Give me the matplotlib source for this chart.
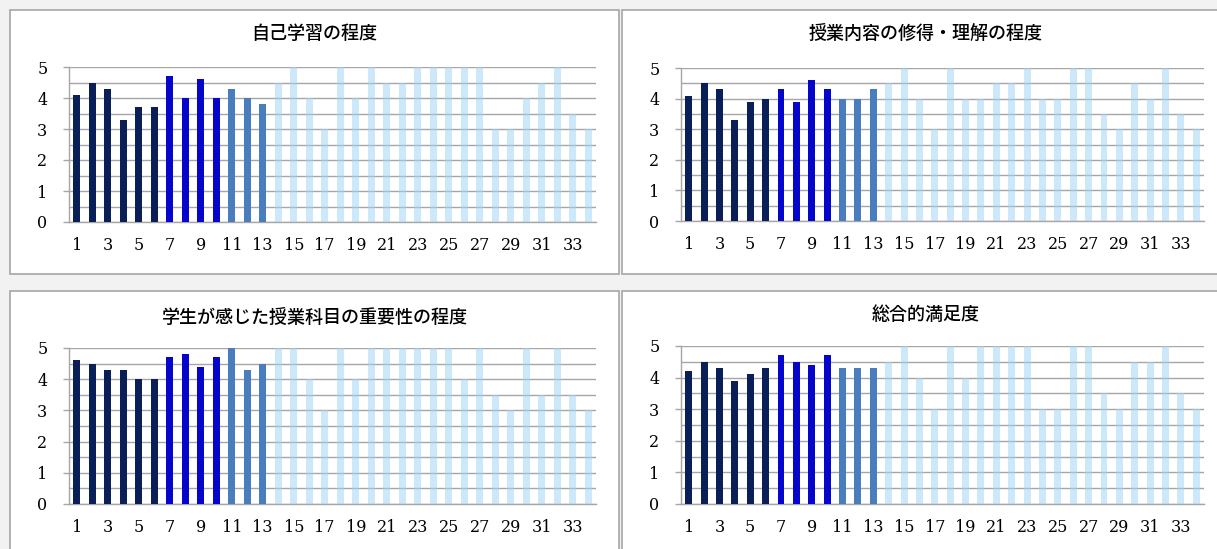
import matplotlib
matplotlib.use("Agg")
import matplotlib.pyplot as plt
from matplotlib.patches import Rectangle
import numpy as np

# ---- data ----
categories = list(range(1, 35))
self_study = [4.1, 4.5, 4.3, 3.3, 3.7, 3.7, 4.7, 4.0, 4.6, 4.0, 4.3, 4.0, 3.8,
              4.5, 5, 4, 3, 5, 4, 5, 4.5, 4.5, 5, 5, 5, 5, 5, 3, 3, 4, 4.5, 5, 3.5, 3]
understanding = [4.1, 4.5, 4.3, 3.3, 3.9, 4.0, 4.3, 3.9, 4.6, 4.3, 4.0, 4.0, 4.3,
                 4.5, 5, 4, 3, 5, 4, 4, 4.5, 4.5, 5, 4, 4, 5, 5, 3.5, 3, 4.5, 4, 5, 3.5, 3]
importance = [4.6, 4.5, 4.3, 4.3, 4.0, 4.0, 4.7, 4.8, 4.4, 4.7, 5.0, 4.3, 4.5,
              5, 5, 4, 3, 5, 4, 5, 5, 5, 5, 5, 5, 4, 5, 3.5, 3, 5, 3.5, 5, 3.5, 3]
satisfaction = [4.2, 4.5, 4.3, 3.9, 4.1, 4.3, 4.7, 4.5, 4.4, 4.7, 4.3, 4.3, 4.3,
                4.5, 5, 4, 3, 5, 4, 5, 5, 5, 5, 3, 3, 5, 5, 3.5, 3, 4.5, 4.5, 5, 3.5, 3]
titles = ["自己学習の程度", "授業内容の修得・理解の程度",
          "学生が感じた授業科目の重要性の程度", "総合的満足度"]
xtick_labels = [str(c) for c in categories if c % 2 == 1]
ytick_labels = ["0", "1", "2", "3", "4", "5"]
group_sizes = [6, 4, 3, 21]

# ---- style ----
group_colors = ["#0a1e58", "#0505cc", "#4a7dbd", "#9fd3f3"]
group_alpha = [1, 1, 1, 0.52]
W, H = 1217, 549

plt.rcParams['font.family'] = ['Noto Sans CJK JP', 'DejaVu Sans']

fig = plt.figure(figsize=(W / 100, H / 100), dpi=100)
fig.patch.set_facecolor("#f2f2f2")

def fx(x):
    return x / W

def fy(y):
    return 1 - y / H

# panel boxes (x0, y0, x1, y1) in pixels
boxes = [(10, 10, 619, 274), (622, 10, 1230, 274),
         (10, 291, 619, 560), (622, 291, 1230, 560)]
# axes areas (left, top(5), right, bottom(0))
axareas = [(69, 67, 596, 222), (681, 68, 1204, 221),
           (69, 348, 596, 504), (681, 346, 1204, 504)]
title_y = [34, 34, 318, 315]
datasets = [self_study, understanding, importance, satisfaction]

for (x0, y0, x1, y1) in boxes:
    fig.patches.append(Rectangle((fx(x0), fy(y1)), fx(x1 - x0), (y1 - y0) / H,
                                 transform=fig.transFigure, facecolor="white",
                                 edgecolor="#a6a6a6", linewidth=1.2, zorder=-10))

colors = []
alphas = []
for g, n in enumerate(group_sizes):
    colors += [group_colors[g]] * n
    alphas += [group_alpha[g]] * n

for i in range(4):
    l, t, r, b = axareas[i]
    ax = fig.add_axes([fx(l), fy(b), fx(r - l), (b - t) / H])
    ax.set_zorder(5)
    ax.set_facecolor("none")
    vals = datasets[i]
    for j, (c, v) in enumerate(zip(categories, vals)):
        ax.bar(c, v, width=0.45, color=colors[j], alpha=alphas[j], zorder=3)
    ax.set_xlim(0.5, 34.5)
    ax.set_ylim(0, 5)
    ax.set_yticks(range(6))
    ax.set_yticklabels(ytick_labels, fontfamily="DejaVu Serif", fontsize=11.5)
    ax.set_yticks(np.arange(0.5, 5, 1.0), minor=True)
    ax.set_xticks([c for c in categories if c % 2 == 1])
    ax.set_xticklabels(xtick_labels, fontfamily="DejaVu Serif", fontsize=11.5)
    ax.tick_params(axis="x", length=0, pad=11)
    ax.tick_params(axis="y", which="major", length=4.5, width=1, color="#a6a6a6", pad=11)
    ax.tick_params(axis="y", which="minor", length=0)
    ax.grid(axis="y", which="both", color="#a6a6a6", linewidth=1, zorder=1)
    ax.set_axisbelow(True)
    for s in ["top", "right"]:
        ax.spines[s].set_visible(False)
    for s in ["left", "bottom"]:
        ax.spines[s].set_color("#a6a6a6")
        ax.spines[s].set_linewidth(1)
    x0, y0, x1, y1 = boxes[i]
    cx = (x0 + x1) / 2 if i % 2 == 0 else (622 + 1230) / 2
    fig.text(fx(cx), fy(title_y[i]), titles[i], ha="center", va="center",
             fontsize=13, fontweight="medium", color="black", zorder=6)

fig.savefig("out.png", dpi=100, facecolor=fig.get_facecolor())
